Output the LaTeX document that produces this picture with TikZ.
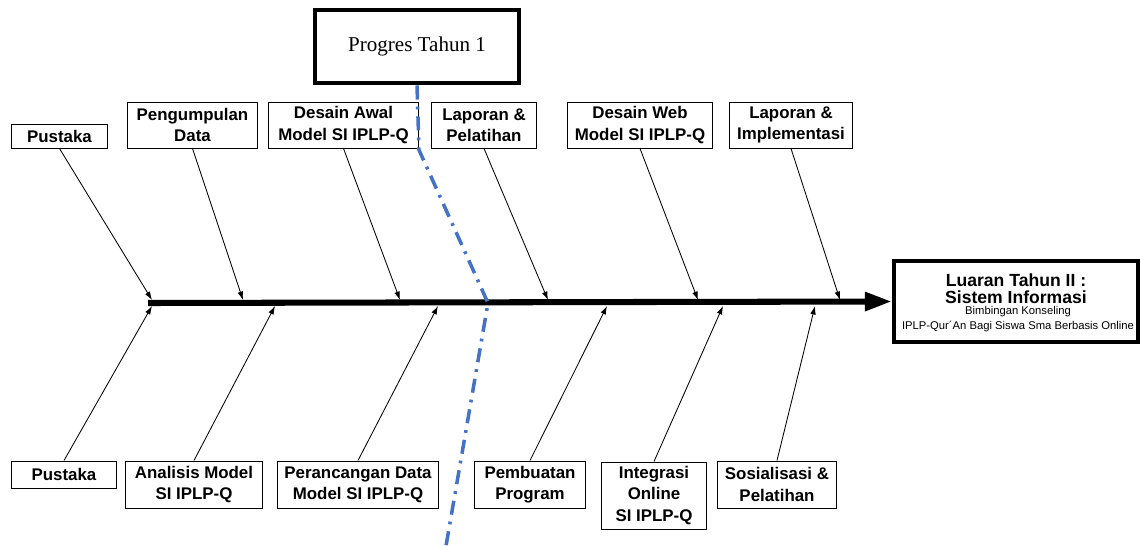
\documentclass[tikz,border=0pt]{standalone}
\usepackage{fontspec}
\setmainfont{Liberation Serif}
\setsansfont{Liberation Sans}
\usepackage{xcolor}
\usepackage{tikz}
\usetikzlibrary{arrows.meta}

\definecolor{garisbiru}{HTML}{4472C4}

\begin{document}
\begin{tikzpicture}[x=0.025cm, y=-0.025cm,
  kotak/.style={draw, line width=0.7pt, inner sep=0pt, align=center,
    font=\sffamily\bfseries\fontsize{12}{15}\selectfont},
  panah/.style={line width=0.6pt, -{Latex[length=6pt,width=4pt]}}]

\useasboundingbox (0,0) rectangle (1140,546);

%Progres
\node[draw, line width=3.5pt, minimum width=5.1cm, minimum height=1.825cm,
  font=\rmfamily\fontsize{15}{18}\selectfont] (progres) at (417,46.5) {Progres Tahun 1};

%Top boxes
\node[kotak, minimum width=2.375cm, minimum height=0.6cm] (tpustaka) at (59.5,136) {Pustaka};
\node[kotak, minimum width=3.225cm, minimum height=1.15cm] (tdata) at (192.5,125) {Pengumpulan\\Data};
\node[kotak, minimum width=3.725cm, minimum height=1.15cm] (tawal) at (343.5,125) {Desain Awal\\Model SI IPLP-Q};
\node[kotak, minimum width=2.6cm, minimum height=1.15cm] (tlatih) at (484,125) {Laporan \&\\Pelatihan};
\node[kotak, minimum width=3.6cm, minimum height=1.15cm] (tweb) at (640,125) {Desain Web\\Model SI IPLP-Q};
\node[kotak, minimum width=3.05cm, minimum height=1.15cm] (timpl) at (791,125) {Laporan \&\\Implementasi};

%Bottom boxes
\node[kotak, minimum width=2.6cm, minimum height=0.675cm] (bpustaka) at (64,474.5) {Pustaka};
\node[kotak, minimum width=3.4cm, minimum height=1.175cm] (banalisis) at (194,484.5) {Analisis Model\\SI IPLP-Q};
\node[kotak, minimum width=4cm, minimum height=1.175cm] (brancang) at (358,484.5) {Perancangan Data\\Model SI IPLP-Q};
\node[kotak, minimum width=2.75cm, minimum height=1.175cm] (bbuat) at (530,484.5) {Pembuatan\\Program};
\node[kotak, minimum width=2.6cm, minimum height=1.675cm] (bintegrasi) at (654,495.5) {Integrasi\\Online\\SI IPLP-Q};
\node[kotak, minimum width=2.95cm, minimum height=1.175cm] (bsosial) at (777,484.5) {Sosialisasi \&\\Pelatihan};

%Luaran
\node[draw, line width=3pt, minimum width=6.1cm, minimum height=2.025cm] (luaran) at (1016,301.5) {};
\node[font=\sffamily\bfseries\fontsize{12.5}{12}\selectfont, align=center] (luarjudul) at (1016,288.5) {Luaran Tahun II :\\Sistem Informasi};
\node[font=\sffamily\fontsize{8}{10.7}\selectfont, align=center] (luarket) at (1018,319.5) {Bimbingan Konseling\\IPLP-Qur´An Bagi Siswa Sma Berbasis Online};

%Spine
\coordinate (ekor) at (148,303);
\draw[line width=4.3pt, -{Triangle[length=0.675cm,width=0.45cm]}] (ekor) -- (luaran.west);

%Top connectors
\coordinate (ta) at (152,300);
\coordinate (tb) at (243,300);
\coordinate (tc) at (400,300);
\coordinate (td) at (548,300);
\coordinate (te) at (698,300);
\coordinate (tf) at (840,300);
\draw[panah] (tpustaka.south) -- (ta);
\draw[panah] (tdata.south) -- (tb);
\draw[panah] (tawal.south) -- (tc);
\draw[panah] (tlatih.south) -- (td);
\draw[panah] (tweb.south) -- (te);
\draw[panah] (timpl.south) -- (tf);

%Bottom connectors
\coordinate (ba) at (152,306);
\coordinate (bb) at (275,306);
\coordinate (bc) at (438,306);
\coordinate (bd) at (607,306);
\coordinate (be) at (723,306);
\coordinate (bf) at (815,306);
\draw[panah] (bpustaka.north) -- (ba);
\draw[panah] (banalisis.north) -- (bb);
\draw[panah] (brancang.north) -- (bc);
\draw[panah] (bbuat.north) -- (bd);
\draw[panah] (bintegrasi.north) -- (be);
\draw[panah] (bsosial.north) -- (bf);

%Dash-dot line
\coordinate (belok1) at (419,150);
\coordinate (belok2) at (488,303);
\coordinate (ujung) at (446,546);
\draw[garisbiru, line width=2.5pt, dash pattern=on 10pt off 5pt on 2pt off 5pt]
  (progres.south) -- (belok1) -- (belok2) -- (ujung);

\end{tikzpicture}
\end{document}
